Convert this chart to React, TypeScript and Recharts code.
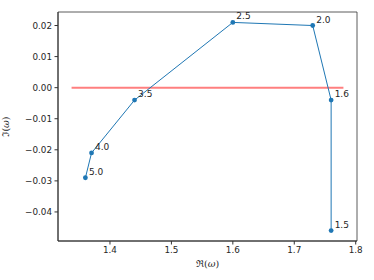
import React from "react";
import {
  LineChart,
  Line,
  XAxis,
  YAxis,
  ReferenceLine,
  ReferenceArea,
  LabelList,
} from "recharts";

// frequencies (point labels), real and imaginary parts
const omegaLabels = ["5.0", "4.0", "3.5", "2.5", "2.0", "1.6", "1.5"];
const reValues = [1.36, 1.37, 1.44, 1.6, 1.73, 1.76, 1.76];
const imValues = [-0.029, -0.021, -0.004, 0.021, 0.02, -0.004, -0.046];

// red zero line, x extent
const zeroLineX = [1.3375, 1.78];

const xTicks = [1.4, 1.5, 1.6, 1.7, 1.8];
const yTicks = [-0.04, -0.03, -0.02, -0.01, 0, 0.01, 0.02];
const xDomain = [1.3154, 1.8021];
const yDomain = [-0.04935, 0.02435];

const data = omegaLabels.map((w, i) => ({ w, re: reValues[i], im: imValues[i] }));

const FONT = "DejaVu Sans, sans-serif";
const tickStyle = { fontSize: 8.8, fill: "#262626", fontFamily: FONT };

const fmtY = (v: number) => (v < 0 ? "\u2212" + Math.abs(v).toFixed(2) : v.toFixed(2));

function PointLabel(props: any) {
  const { x, y, value } = props;
  return (
    <text x={x + 3.5} y={y - 3} fontSize={9} fontFamily={FONT} fill="#262626">
      {value}
    </text>
  );
}

function XLabel(props: any) {
  const { viewBox } = props;
  const cx = viewBox.x + viewBox.width / 2;
  return (
    <text x={cx} y={267} textAnchor="middle" fontSize={9.5} fontFamily="DejaVu Serif, serif" fill="#262626">
      {"\u211C("}
      <tspan fontStyle="italic">ω</tspan>
      {")"}
    </text>
  );
}

function YLabel(props: any) {
  const { viewBox } = props;
  const cy = viewBox.y + viewBox.height / 2;
  return (
    <text
      x={9}
      y={cy}
      transform={`rotate(-90 9 ${cy})`}
      textAnchor="middle"
      fontSize={9.5}
      fontFamily="DejaVu Serif, serif"
      fill="#262626"
    >
      {"\u2111("}
      <tspan fontStyle="italic">ω</tspan>
      {")"}
    </text>
  );
}

export default function App() {
  return (
    <div style={{ position: "absolute", left: 0, top: 0, width: 374, height: 280, background: "#fff" }}>
      <LineChart
        width={374}
        height={280}
        data={data}
        margin={{ top: 12, right: 17, left: 0, bottom: 0 }}
      >
        <XAxis
          type="number"
          dataKey="re"
          domain={xDomain}
          ticks={xTicks}
          allowDataOverflow
          tickFormatter={(v: number) => v.toFixed(1)}
          tick={tickStyle}
          tickSize={3.5}
          tickMargin={2}
          height={39}
          stroke="#333"
          label={<XLabel />}
        />
        <YAxis
          type="number"
          dataKey="im"
          domain={yDomain}
          ticks={yTicks}
          allowDataOverflow
          tickFormatter={fmtY}
          tick={tickStyle}
          tickSize={3.5}
          tickMargin={2.5}
          width={58}
          stroke="#333"
          label={<YLabel />}
        />
        <ReferenceArea
          x1={xDomain[0]}
          x2={xDomain[1]}
          y1={yDomain[0]}
          y2={yDomain[1]}
          fill="none"
          fillOpacity={0}
          stroke="#333"
          strokeWidth={0.8}
        />
        <ReferenceLine
          segment={[
            { x: zeroLineX[0], y: 0 },
            { x: zeroLineX[1], y: 0 },
          ]}
          stroke="#ff7f7f"
          strokeWidth={2}
        />
        <Line
          type="linear"
          dataKey="im"
          stroke="#1f77b4"
          strokeWidth={1}
          dot={{ r: 2.4, fill: "#1f77b4", stroke: "#1f77b4", strokeWidth: 0 }}
          isAnimationActive={false}
        >
          <LabelList dataKey="w" content={<PointLabel />} />
        </Line>
      </LineChart>
    </div>
  );
}
